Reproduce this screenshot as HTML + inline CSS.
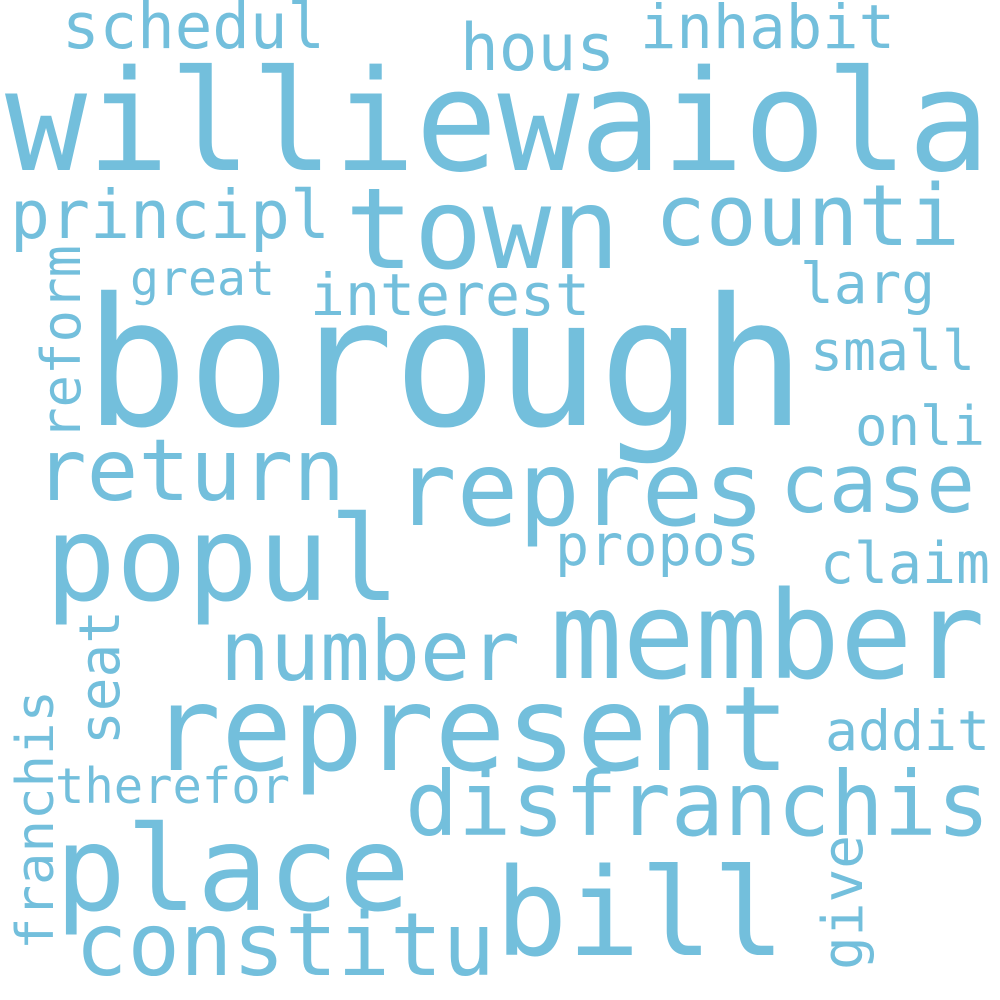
<!DOCTYPE html>
<html><head><meta charset="utf-8"><style>
html,body{margin:0;padding:0;background:#fff;}
svg{display:block;}
text{font-family:"DejaVu Sans Mono","Liberation Mono",monospace;fill:#73bfdc;}
</style></head><body>
<svg width="1000" height="1000" viewBox="0 0 1000 1000">
<rect width="1000" height="1000" fill="#fff"/>
<text x="5" y="170" font-size="140" textLength="985" lengthAdjust="spacingAndGlyphs">williewaiola</text>
<text x="85" y="425" font-size="178" textLength="720" lengthAdjust="spacingAndGlyphs">borough</text>
<text x="345" y="268" font-size="112" textLength="275" lengthAdjust="spacingAndGlyphs">town</text>
<text x="655" y="245" font-size="85" textLength="305" lengthAdjust="spacingAndGlyphs">counti</text>
<text x="62" y="48" font-size="63" textLength="263" lengthAdjust="spacingAndGlyphs">schedul</text>
<text x="640" y="48" font-size="61" textLength="255" lengthAdjust="spacingAndGlyphs">inhabit</text>
<text x="460" y="70" font-size="65" textLength="155" lengthAdjust="spacingAndGlyphs">hous</text>
<text x="10" y="238" font-size="67" textLength="320" lengthAdjust="spacingAndGlyphs">principl</text>
<text x="130" y="295" font-size="48" textLength="145" lengthAdjust="spacingAndGlyphs">great</text>
<text x="310" y="315" font-size="58" textLength="280" lengthAdjust="spacingAndGlyphs">interest</text>
<text x="800" y="303" font-size="56" textLength="135" lengthAdjust="spacingAndGlyphs">larg</text>
<text x="810" y="370" font-size="55" textLength="165" lengthAdjust="spacingAndGlyphs">small</text>
<text x="855" y="445" font-size="54" textLength="130" lengthAdjust="spacingAndGlyphs">onli</text>
<text x="780" y="512" font-size="81" textLength="195" lengthAdjust="spacingAndGlyphs">case</text>
<text x="395" y="525" font-size="103" textLength="370" lengthAdjust="spacingAndGlyphs">repres</text>
<text x="35" y="500" font-size="86" textLength="310" lengthAdjust="spacingAndGlyphs">return</text>
<text x="45" y="600" font-size="118" textLength="355" lengthAdjust="spacingAndGlyphs">popul</text>
<text x="555" y="565" font-size="57" textLength="205" lengthAdjust="spacingAndGlyphs">propos</text>
<text x="820" y="583" font-size="57" textLength="170" lengthAdjust="spacingAndGlyphs">claim</text>
<text x="550" y="678" font-size="121" textLength="435" lengthAdjust="spacingAndGlyphs">member</text>
<text x="220" y="680" font-size="83" textLength="300" lengthAdjust="spacingAndGlyphs">number</text>
<text x="150" y="770" font-size="118" textLength="640" lengthAdjust="spacingAndGlyphs">represent</text>
<text x="825" y="750" font-size="55" textLength="165" lengthAdjust="spacingAndGlyphs">addit</text>
<text x="55" y="803" font-size="49" textLength="235" lengthAdjust="spacingAndGlyphs">therefor</text>
<text x="405" y="835" font-size="89" textLength="585" lengthAdjust="spacingAndGlyphs">disfranchis</text>
<text x="55" y="910" font-size="118" textLength="355" lengthAdjust="spacingAndGlyphs">place</text>
<text x="495" y="955" font-size="121" textLength="290" lengthAdjust="spacingAndGlyphs">bill</text>
<text x="75" y="975" font-size="87" textLength="420" lengthAdjust="spacingAndGlyphs">constitu</text>
<text transform="translate(80,440) rotate(-90)" font-size="54" textLength="195" lengthAdjust="spacingAndGlyphs">reform</text>
<text transform="translate(53,950) rotate(-90)" font-size="52" textLength="260" lengthAdjust="spacingAndGlyphs">franchis</text>
<text transform="translate(119,745) rotate(-90)" font-size="56" textLength="135" lengthAdjust="spacingAndGlyphs">seat</text>
<text transform="translate(862,970) rotate(-90)" font-size="56" textLength="135" lengthAdjust="spacingAndGlyphs">give</text>
</svg>
</body></html>
